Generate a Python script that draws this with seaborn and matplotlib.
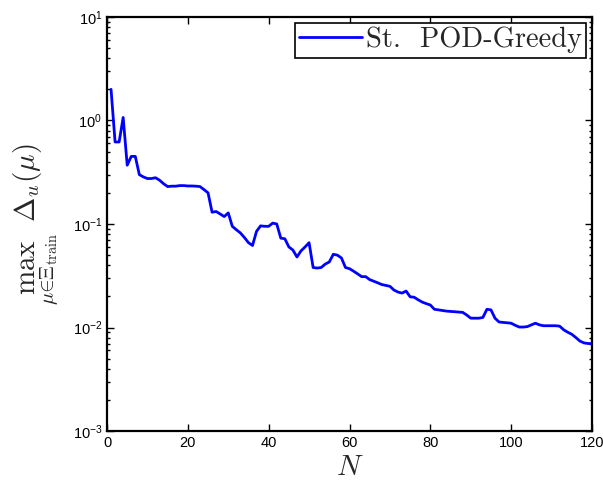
import numpy as np
import pandas as pd
import matplotlib
matplotlib.use("Agg")
import matplotlib.pyplot as plt
import seaborn as sns
from matplotlib.ticker import LogLocator, FixedLocator

N_values = list(range(1, 121))
delta_max = [
    2.0, 0.62, 0.62, 1.07, 0.37, 0.45, 0.45, 0.30, 0.285, 0.275,
    0.275, 0.28, 0.265, 0.245, 0.23, 0.232, 0.232, 0.235, 0.235, 0.233,
    0.233, 0.232, 0.23, 0.215, 0.20, 0.13, 0.132, 0.125, 0.118, 0.128,
    0.095, 0.088, 0.082, 0.074, 0.066, 0.062, 0.085, 0.096, 0.095, 0.095,
    0.102, 0.10, 0.073, 0.072, 0.060, 0.056, 0.048, 0.055, 0.060, 0.066,
    0.038, 0.0375, 0.038, 0.041, 0.043, 0.051, 0.050, 0.047, 0.038, 0.037,
    0.035, 0.033, 0.031, 0.031, 0.029, 0.028, 0.027, 0.026, 0.0255, 0.025,
    0.023, 0.022, 0.0215, 0.0225, 0.0198, 0.0196, 0.0185, 0.0176, 0.017, 0.0165,
    0.0150, 0.0148, 0.0146, 0.0144, 0.0143, 0.0142, 0.0141, 0.0140, 0.0132, 0.0123,
    0.0123, 0.0123, 0.0125, 0.0150, 0.0148, 0.0123, 0.0113, 0.0112, 0.0111, 0.0110,
    0.0105, 0.0101, 0.0101, 0.0102, 0.0106, 0.0110, 0.0106, 0.0104, 0.0104, 0.0104,
    0.0104, 0.0103, 0.0095, 0.0090, 0.0086, 0.0080, 0.0074, 0.0071, 0.0070, 0.0070,
]
series_label = "St.  POD-Greedy"
x_ticks = [0, 20, 40, 60, 80, 100, 120]

sns.set_style("ticks")
plt.rcParams["font.family"] = ["Liberation Sans", "DejaVu Sans"]
plt.rcParams["mathtext.fontset"] = "cm"

df = pd.DataFrame({"N": N_values, "delta": delta_max})

fig = plt.figure(figsize=(6.03, 4.84), dpi=100)
ax = fig.add_axes([107 / 603, 53 / 484, 485 / 603, 414 / 484])

sns.lineplot(data=df, x="N", y="delta", ax=ax, color=(0, 0, 1), linewidth=2.0,
             label=series_label)

ax.set_yscale("log")
ax.set_xlim(0, 120)
ax.set_ylim(1e-3, 1e1)
ax.xaxis.set_major_locator(FixedLocator(x_ticks))
ax.yaxis.set_major_locator(LogLocator(base=10, numticks=10))
ax.yaxis.set_minor_locator(LogLocator(base=10, subs=np.arange(2, 10), numticks=20))

ax.tick_params(which="both", direction="in", top=True, right=True,
               labelsize=10.5, colors="black", width=1.0)
ax.tick_params(which="major", length=5)
ax.tick_params(which="minor", length=2.5)
for s in ax.spines.values():
    s.set_linewidth(1.6)
    s.set_color("black")

ax.set_xlabel(r"$N$", fontsize=21, labelpad=2)
ax.set_ylabel(r"$\max_{\mu\in\Xi_{\mathrm{train}}}\ \Delta_u(\mu)$", fontsize=21, labelpad=8)

leg = ax.legend(loc="upper right", frameon=True, fancybox=False, shadow=False,
                handlelength=2.2, handletextpad=0.15, borderaxespad=0.2,
                borderpad=0.15, prop={"family": "cmr10", "size": 20.5})
leg.get_frame().set_edgecolor("black")
leg.get_frame().set_linewidth(1.2)
leg.get_frame().set_alpha(1)

fig.savefig("out.png", dpi=100)
